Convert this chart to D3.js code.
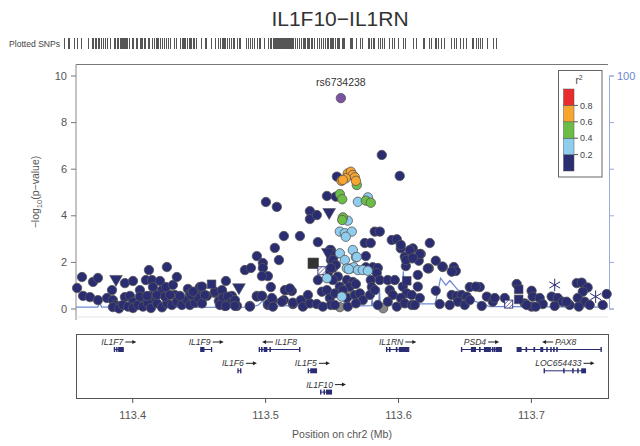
<!DOCTYPE html>
<html>
<head>
<meta charset="utf-8">
<script src="https://cdn.jsdelivr.net/npm/d3@7"></script>
<style>
  body { margin: 0; background: #fff; }
  svg { font-family: "Liberation Sans", Arial, sans-serif; }
</style>
</head>
<body>
<svg id="chart" width="640" height="446"></svg>
<script>
// ---- data (position in Mb, -log10 p) ----
const leadSnp = { name: "rs6734238", pos: 113.5570, logp: 9.03 };

const snpNavy = [
  [113.3585,0.88],[113.3622,1.35],[113.3630,0.54],[113.3682,0.49],[113.3705,1.14],[113.3742,1.31],[113.3742,0.36],
  [113.3848,0.79],[113.3810,0.45],[113.3855,0.36],[113.3870,0.15],[113.3908,0.11],[113.3945,0.49],[113.3945,1.09],
  [113.4006,1.18],[113.3983,0.54],[113.4006,0.28],[113.4058,0.79],[113.4073,0.36],[113.4103,1.22],[113.4126,1.65],
  [113.4149,1.22],[113.4156,0.92],[113.4133,0.54],[113.4171,0.28],[113.4209,1.18],[113.4224,0.79],[113.4261,1.78],
  [113.4254,0.92],[113.4306,1.01],[113.4336,1.35],[113.4321,0.58],[113.4359,0.45],[113.4419,0.84],[113.4397,0.28],
  [113.4434,0.62],[113.4487,0.75],[113.4509,0.92],[113.4457,0.36],[113.4562,0.54],[113.4622,0.67],[113.4675,0.71],
  [113.4705,1.18],[113.4652,0.32],[113.4697,0.11],[113.4750,0.54],[113.4788,0.11],[113.4758,0.28],[113.4885,0.11],
  [113.4938,0.54],[113.4976,0.54],[113.4848,1.65],[113.4893,1.74],[113.4938,2.25],[113.4983,1.95],[113.4983,1.74],
  [113.5021,1.39],[113.4976,1.39],[113.5043,0.92],[113.5058,0.36],[113.5021,0.15],[113.5073,2.60],[113.5104,2.08],
  [113.5088,4.36],[113.5006,4.57],[113.5141,3.11],[113.5262,3.11],[113.5156,0.79],[113.5201,0.75],[113.5141,0.36],
  [113.5209,0.19],[113.5299,0.19],[113.5337,4.18],[113.5337,3.84],[113.5389,4.01],[113.5397,2.85],[113.5465,4.83],
  [113.3855,0.06],[113.3900,0.00],[113.3930,0.15],[113.3968,0.08],[113.4006,0.02],[113.4043,0.15],[113.4081,0.08],
  [113.4118,0.22],[113.4141,0.02],[113.4186,0.22],[113.4224,0.05],[113.4261,0.22],[113.4299,0.15],[113.4336,0.29],
  [113.4374,0.15],[113.4412,0.36],[113.4434,0.15],[113.4472,0.25],[113.4494,0.45],[113.4525,0.22],[113.4058,0.51],
  [113.4111,0.54],[113.4186,0.58],[113.4246,0.51],[113.4284,0.58],[113.4359,0.54],[113.4442,0.58],[113.4457,0.72],
  [113.4525,0.94],[113.4547,0.58],[113.4622,0.72],[113.4675,0.79],[113.4682,0.45],[113.4720,0.51],[113.4743,0.25],
  [113.4773,0.36],[113.4660,0.15],[113.4705,0.11],[113.4773,0.11],[113.4885,0.08],[113.4938,0.51],[113.4976,0.54],
  [113.5028,0.22],[113.5051,0.45],[113.5058,0.08],[113.5126,0.29],[113.5149,0.79],[113.5186,0.86],[113.5209,0.25],
  [113.5269,0.36],[113.5284,0.08],[113.5337,0.22],[113.5322,0.58],[113.5389,0.19],[113.5397,1.22],[113.5427,0.72],
  [113.5465,0.79],[113.5487,0.45],[113.5495,0.15],[113.5434,0.08],[113.5472,1.52],[113.5495,2.08],[113.5510,1.74],
  [113.5487,2.51],[113.5495,2.51],[113.5525,2.30],[113.5510,2.08],[113.5532,1.87],[113.5495,1.74],[113.5547,1.37],
  [113.5510,1.22],[113.5615,1.22],[113.5660,1.14],[113.5637,0.94],[113.5683,1.05],[113.5562,0.94],[113.5525,0.65],
  [113.5585,0.79],[113.5615,0.45],[113.5675,0.58],[113.5713,0.65],[113.5735,0.36],[113.5525,0.15],[113.5622,0.08],
  [113.5683,0.22],[113.5758,2.25],[113.5758,1.77],[113.5810,1.77],[113.5848,1.74],[113.5840,1.52],[113.5795,1.22],
  [113.5863,1.22],[113.5803,0.92],[113.5788,0.58],[113.5825,0.79],[113.5848,0.15],[113.5923,1.22],[113.5976,1.22],
  [113.5938,0.79],[113.5961,0.58],[113.5923,0.29],[113.5991,0.08],[113.6021,2.58],[113.6051,2.22],[113.6059,1.82],
  [113.6036,0.94],[113.6066,0.65],[113.6021,0.45],[113.6104,0.58],[113.6051,0.22],[113.6104,0.15],[113.6111,2.58],
  [113.6104,2.15],[113.6171,2.34],[113.6156,2.05],[113.6149,1.44],[113.6149,0.94],[113.6164,0.45],[113.6126,0.15],
  [113.6232,1.72],[113.6284,2.05],[113.6284,0.76],[113.6314,0.19],[113.6337,1.78],[113.6420,1.78],[113.6435,1.61],
  [113.6404,0.58],[113.6442,0.54],[113.6480,0.58],[113.6450,0.29],[113.6389,0.15],[113.6517,0.51],[113.6502,0.15],
  [113.5825,3.30],[113.5863,3.30],[113.5750,2.81],[113.5795,2.81],[113.5953,2.94],[113.5991,2.97],[113.6021,2.73],
  [113.6089,2.51],[113.6164,2.34],[113.6239,2.81],[113.6334,1.80],[113.6404,1.58],[113.6059,2.08],[113.6111,2.17],
  [113.6224,1.72],[113.5878,6.59],[113.6013,5.69],[113.5540,5.66],[113.5532,4.80],
  [113.6540,0.92],[113.6615,0.92],[113.6668,0.51],[113.6713,0.29],[113.6630,0.11],[113.6803,0.45],[113.6893,1.05],
  [113.7005,0.76],[113.7013,0.51],[113.7066,0.45],[113.7089,0.19],[113.7005,0.08],[113.7036,0.08],[113.7156,0.51],
  [113.7202,0.45],[113.7179,0.11],[113.7239,0.29],[113.7292,0.15],[113.7345,1.09],[113.7382,1.11],[113.7427,0.90],
  [113.7390,0.72],[113.7352,0.45],[113.7405,0.29],[113.7442,0.15],[113.7360,0.08],[113.7540,0.15],[113.7570,0.62],
  [113.6585,0.94],[113.6540,0.36],[113.6728,0.45],[113.6953,0.22],[113.7269,0.29],[113.6968,0.15]
];
const snpLightBlue = [
  [113.5698,4.58],[113.5773,4.77],[113.5622,3.77],[113.5562,3.30],[113.5600,3.23],[113.5652,3.30],[113.5607,3.08],
  [113.5660,2.51],[113.5562,2.37],[113.5600,2.08],[113.5683,2.20],[113.5615,1.72],[113.5645,1.72],[113.5668,1.77],
  [113.5698,1.65],[113.5735,1.65],[113.5773,1.62],[113.5577,0.51],[113.5465,1.30],[113.5630,1.69],[113.5690,2.21]
];
const snpGreen = [
  [113.5690,5.30],[113.5562,4.91],[113.5580,4.69],[113.5758,4.63],[113.5795,4.54],[113.5585,3.91],[113.5580,3.80]
];
const snpOrange = [
  [113.5622,5.80],[113.5645,5.87],[113.5660,5.73],[113.5675,5.63],[113.5607,5.59],[113.5574,5.48],[113.5585,5.52],[113.5683,5.48]
];
const snpNoR2 = [[113.5562,0.06],[113.5637,0.58],[113.5888,0.01]];
const snpTriangle = [[113.3878,1.22],[113.4803,0.86],[113.5482,4.09],[113.5472,2.37]];
const snpSquare = [[113.4597,1.04],[113.6908,0.82],[113.6908,0.39],[113.6066,1.19]];
const snpBigSquare = [[113.5362,1.94]];
const snpHatched = [[113.6833,0.19],[113.5427,1.62]];
const snpAsterisk = [[113.7179,1.01],[113.7487,0.51]];

// recombination rate (cM/Mb)
const recombPos  = [113.3577,113.3740,113.3755,113.3770,113.4100,113.4400,113.4900,113.4950,113.4985,113.4990,113.5200,
  113.5487,113.5495,113.5500,113.5590,113.5595,113.5600,113.5800,113.5805,113.5810,113.5855,113.5860,113.5866,
  113.6030,113.6040,113.6048,113.6280,113.6320,113.6360,113.6390,113.6450,113.6540,113.6630,113.6690,113.6800,
  113.6805,113.6810,113.7580];
const recombRate = [0.6,0.6,2.5,0.6,0.8,0.5,0.6,1.5,3.5,0.8,1.2,
  1.2,3,1,1,3,1,1.2,4,1.2,1.2,9,1.5,
  1.5,16,2,2,13,10,12,8,4,2,0.8,0.8,
  3,0.8,0.6];

// genes
const genes = [
  { name: "IL1F7", strand: "+", row: 0, start: 113.3865, end: 113.3933, exons: [[113.3865,113.3868],[113.3883,113.3886],[113.3898,113.3933]] },
  { name: "IL1F9", strand: "+", row: 0, start: 113.4515, end: 113.4598, exons: [[113.4515,113.4540],[113.4596,113.4598]] },
  { name: "IL1F8", strand: "-", row: 0, start: 113.4955, end: 113.5262, exons: [[113.4955,113.4958],[113.4973,113.4977],[113.4993,113.5013],[113.5036,113.5040],[113.5259,113.5262]] },
  { name: "IL1RN", strand: "+", row: 0, start: 113.5913, end: 113.6081, exons: [[113.5913,113.5916],[113.5935,113.5940],[113.5987,113.5992],[113.6010,113.6081]] },
  { name: "PSD4", strand: "+", row: 0, start: 113.6477, end: 113.6778, exons: [[113.6477,113.6480],[113.6552,113.6583],[113.6613,113.6618],[113.6650,113.6695],[113.6710,113.6715],[113.6725,113.6730],[113.6740,113.6778]] },
  { name: "PAX8", strand: "-", row: 0, start: 113.6896, end: 113.7530, exons: [[113.6896,113.6926],[113.6963,113.6968],[113.7023,113.7028],[113.7074,113.7089],[113.7119,113.7123],[113.7149,113.7153],[113.7171,113.7175],[113.7194,113.7198],[113.7527,113.7530]] },
  { name: "IL1F6", strand: "+", row: 1, start: 113.4795, end: 113.4818, exons: [[113.4795,113.4797],[113.4815,113.4818]] },
  { name: "IL1F5", strand: "+", row: 1, start: 113.5324, end: 113.5387, exons: [[113.5324,113.5327],[113.5343,113.5387]] },
  { name: "LOC654433", strand: "+", row: 1, start: 113.7099, end: 113.7411, exons: [[113.7099,113.7102],[113.7246,113.7250],[113.7314,113.7318],[113.7352,113.7356],[113.7382,113.7411]] },
  { name: "IL1F10", strand: "+", row: 2, start: 113.5417, end: 113.5500, exons: [[113.5417,113.5420],[113.5443,113.5447],[113.5462,113.5500]] }
];

const legendBreaks = [0.2, 0.4, 0.6, 0.8];
const legendColors = ["#2b2d72", "#8fcdee", "#6cbd45", "#f8a52f", "#e82c2e"]; // low -> high
const yTicks = [0, 2, 4, 6, 8, 10];
const xTicks = [113.4, 113.5, 113.6, 113.7];

// ---- layout ----
const navy = legendColors[0];
const svg = d3.select("#chart");
const plot = { left: 76, right: 608, top: 64.5, bottom: 317 };

const x = d3.scaleLinear().domain([113.3577, 113.758]).range([plot.left, plot.right]);
const y = d3.scaleLinear().domain([0, 10]).range([308.5, 75.5]);
const yR = d3.scaleLinear().domain([0, 100]).range([308.5, 75.5]);
const xRug = d3.scaleLinear().domain(x.domain()).range([63, 497]);

// title
svg.append("text").attr("x", 340).attr("y", 26).attr("text-anchor", "middle")
  .attr("font-size", 21).attr("fill", "#333").text("IL1F10\u2212IL1RN");

// rug of plotted SNPs
svg.append("text").attr("x", 9).attr("y", 47).attr("font-size", 8.6).attr("fill", "#444").text("Plotted SNPs");
const allSnps = [].concat(snpNavy, snpLightBlue, snpGreen, snpOrange, snpNoR2, snpTriangle, snpSquare,
  snpBigSquare, snpHatched, snpAsterisk, [[leadSnp.pos, leadSnp.logp]]);
svg.append("g").selectAll("line").data(allSnps).enter().append("line")
  .attr("x1", d => Math.round(xRug(d[0])) + 0.5).attr("x2", d => Math.round(xRug(d[0])) + 0.5)
  .attr("y1", 38).attr("y2", 49).attr("stroke", "#555").attr("stroke-width", 1);

// frame
svg.append("line").attr("x1", plot.left).attr("x2", plot.right).attr("y1", plot.top).attr("y2", plot.top)
  .attr("stroke", "#777");
svg.append("line").attr("x1", plot.left).attr("x2", plot.left).attr("y1", plot.top).attr("y2", 320)
  .attr("stroke", "#888");
svg.append("line").attr("x1", plot.left).attr("x2", plot.right).attr("y1", plot.bottom).attr("y2", plot.bottom)
  .attr("stroke", "#e4e4e4");

// left axis
const gy = svg.append("g").attr("transform", `translate(${plot.left},0)`)
  .call(d3.axisLeft(y).tickValues(yTicks).tickSize(5).tickPadding(4));
gy.select(".domain").remove();
gy.selectAll("line").attr("stroke", "#777");
gy.selectAll("text").attr("font-size", 11).attr("fill", "#555").attr("font-family", "Liberation Sans, Arial, sans-serif");

const ylab = svg.append("text").attr("transform", "translate(39,192) rotate(-90)")
  .attr("text-anchor", "middle").attr("font-size", 10.5).attr("fill", "#555");
ylab.append("tspan").text("\u2212log");
ylab.append("tspan").attr("font-size", 7.5).attr("dy", 3).text("10");
ylab.append("tspan").attr("dy", -3).text("(p\u2212value)");

// right axis (recombination rate)
const recColor = "#6f8bd4";
const gr = svg.append("g").attr("transform", "translate(609,0)")
  .call(d3.axisRight(yR).tickValues([0, 20, 40, 60, 80, 100]).tickSize(5).tickFormat(d => d === 100 ? "100" : ""));
gr.select(".domain").attr("stroke", "#9aabd9");
gr.selectAll("line").attr("stroke", "#9aabd9");
gr.selectAll("text").attr("font-size", 11).attr("fill", "#6f86cc").attr("font-family", "Liberation Sans, Arial, sans-serif");

// recombination line
svg.append("path")
  .datum(recombPos.map((p, i) => [p, recombRate[i]]))
  .attr("d", d3.line().x(d => x(d[0])).y(d => yR(d[1])))
  .attr("fill", "none").attr("stroke", recColor).attr("stroke-width", 1.3);

// points
const pts = svg.append("g");
const outline = "#555";
function circles(data, fill) {
  pts.append("g").selectAll("circle").data(data).enter().append("circle")
    .attr("cx", d => x(d[0])).attr("cy", d => y(d[1])).attr("r", 4.7)
    .attr("fill", fill).attr("stroke", outline).attr("stroke-width", 0.8);
}
circles(snpNoR2, "#888");
circles(snpNavy, navy);

pts.append("g").selectAll("path").data(snpTriangle).enter().append("path")
  .attr("d", d3.symbol(d3.symbolTriangle, 70))
  .attr("transform", d => `translate(${x(d[0])},${y(d[1]) - 1}) rotate(180)`)
  .attr("fill", navy).attr("stroke", outline).attr("stroke-width", 0.6);
pts.append("g").selectAll("path").data(snpSquare).enter().append("path")
  .attr("d", d3.symbol(d3.symbolSquare, 75))
  .attr("transform", d => `translate(${x(d[0])},${y(d[1])})`)
  .attr("fill", navy).attr("stroke", outline).attr("stroke-width", 0.6);
pts.append("g").selectAll("path").data(snpBigSquare).enter().append("path")
  .attr("d", d3.symbol(d3.symbolSquare, 110))
  .attr("transform", d => `translate(${x(d[0])},${y(d[1])})`)
  .attr("fill", "#333").attr("stroke", "#444").attr("stroke-width", 0.6);
const hatch = pts.append("g").selectAll("g").data(snpHatched).enter().append("g")
  .attr("transform", d => `translate(${x(d[0])},${y(d[1])})`);
hatch.append("rect").attr("x", -4).attr("y", -4).attr("width", 8).attr("height", 8)
  .attr("fill", "#fff").attr("stroke", navy).attr("stroke-width", 0.9);
hatch.append("path").attr("d", "M-4,4L4,-4M-4,0L0,-4M0,4L4,0").attr("stroke", navy).attr("stroke-width", 0.7);
pts.append("g").selectAll("path").data(snpAsterisk).enter().append("path")
  .attr("d", d3.symbol(d3.symbolAsterisk, 110))
  .attr("transform", d => `translate(${x(d[0])},${y(d[1])})`)
  .attr("fill", "none").attr("stroke", navy).attr("stroke-width", 1);

circles(snpLightBlue, legendColors[1]);
circles(snpGreen, legendColors[2]);
circles(snpOrange, legendColors[3]);
circles([[leadSnp.pos, leadSnp.logp]], "#7c52a4");

svg.append("text").attr("x", x(leadSnp.pos)).attr("y", y(leadSnp.logp) - 12)
  .attr("text-anchor", "middle").attr("font-size", 10.5).attr("fill", "#333").text(leadSnp.name);

// legend
const lg = svg.append("g");
lg.append("rect").attr("x", 558.5).attr("y", 70.5).attr("width", 43.5).attr("height", 106.5)
  .attr("fill", "#fff").attr("stroke", "#666");
const ly = d3.scaleLinear().domain([0, 1]).range([171, 89]);
const bands = [0].concat(legendBreaks, [1]);
lg.selectAll("rect.band").data(legendColors).enter().append("rect").attr("class", "band")
  .attr("x", 563.5).attr("width", 10.5)
  .attr("y", (d, i) => ly(bands[i + 1])).attr("height", (d, i) => ly(bands[i]) - ly(bands[i + 1]))
  .attr("fill", d => d).attr("stroke", "#555").attr("stroke-width", 0.5);
lg.selectAll("line.tk").data(legendBreaks).enter().append("line")
  .attr("x1", 574).attr("x2", 578).attr("y1", d => ly(d)).attr("y2", d => ly(d)).attr("stroke", "#555");
lg.selectAll("text.tk").data(legendBreaks).enter().append("text")
  .attr("x", 580).attr("y", d => ly(d) + 3.2).attr("font-size", 9).attr("fill", "#444").text(d => d.toFixed(1));
const lt = lg.append("text").attr("x", 579).attr("y", 84).attr("font-size", 10).attr("fill", "#444").attr("text-anchor", "middle");
lt.append("tspan").text("r");
lt.append("tspan").attr("font-size", 7).attr("dy", -4).text("2");

// gene panel
const gp = { top: 334, bottom: 398 };
svg.append("rect").attr("x", plot.left + 0.5).attr("y", gp.top + 0.5)
  .attr("width", plot.right - plot.left).attr("height", gp.bottom - gp.top)
  .attr("fill", "none").attr("stroke", "#555");
const rowY = r => 349.5 + r * 21.3;
const gg = svg.append("g").selectAll("g").data(genes).enter().append("g");
gg.append("line").attr("x1", d => x(d.start)).attr("x2", d => x(d.end))
  .attr("y1", d => rowY(d.row)).attr("y2", d => rowY(d.row)).attr("stroke", navy).attr("stroke-width", 1);
gg.selectAll("rect").data(d => d.exons.map(e => ({ e, row: d.row }))).enter().append("rect")
  .attr("x", d => x(d.e[0]) - 0.5).attr("width", d => Math.max(1.3, x(d.e[1]) - x(d.e[0]) + 1))
  .attr("y", d => rowY(d.row) - 2.5).attr("height", 5).attr("fill", navy);

// labels with drawn strand arrows
const arrowLen = 11, arrowGap = 2;
gg.each(function (d) {
  const g = d3.select(this);
  const cx = x((d.start + d.end) / 2);
  const by = rowY(d.row) - 4.5;
  const t = g.append("text").attr("y", by).attr("font-size", 8.6).attr("font-style", "italic")
    .attr("fill", "#333").text(d.name);
  const w = t.node().getComputedTextLength();
  const total = w + arrowGap + arrowLen;
  const left = cx - total / 2;
  const ay = by - 3;
  let ax0, ax1;
  if (d.strand === "+") {
    t.attr("x", left);
    ax0 = left + w + arrowGap; ax1 = ax0 + arrowLen;
  } else {
    t.attr("x", left + arrowLen + arrowGap);
    ax0 = left + arrowLen; ax1 = left;
  }
  const dir = Math.sign(ax1 - ax0);
  g.append("line").attr("x1", ax0).attr("x2", ax1 - dir * 3).attr("y1", ay).attr("y2", ay)
    .attr("stroke", "#222").attr("stroke-width", 1);
  g.append("path").attr("d", `M${ax1},${ay}L${ax1 - dir * 4},${ay - 2}L${ax1 - dir * 4},${ay + 2}Z`).attr("fill", "#222");
});

// x axis
const gx = svg.append("g").attr("transform", `translate(0,${gp.bottom})`)
  .call(d3.axisBottom(x).tickValues(xTicks).tickSize(5).tickPadding(8).tickFormat(d3.format(".1f")));
gx.select(".domain").remove();
gx.selectAll("line").attr("stroke", "#555");
gx.selectAll("text").attr("font-size", 11).attr("fill", "#555").attr("font-family", "Liberation Sans, Arial, sans-serif");
svg.append("text").attr("x", 342).attr("y", 438).attr("text-anchor", "middle")
  .attr("font-size", 10.5).attr("fill", "#555").text("Position on chr2 (Mb)");
</script>
</body>
</html>
